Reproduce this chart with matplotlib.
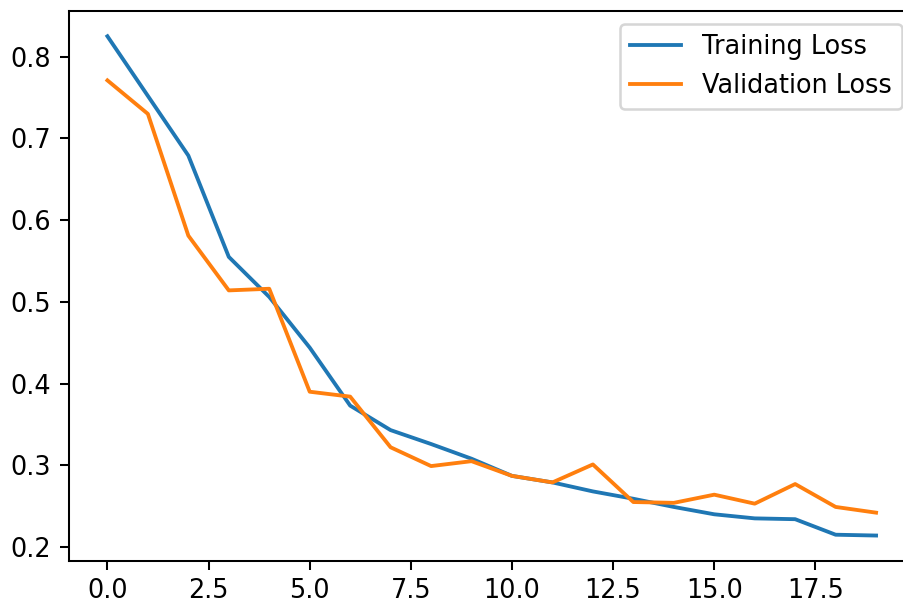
import numpy as np
import matplotlib
matplotlib.use('Agg')
import matplotlib.pyplot as plt

# loss per epoch
epochs = np.arange(20)
train_loss = [0.825, 0.752, 0.679, 0.555, 0.506, 0.444, 0.373, 0.343, 0.326, 0.308,
              0.287, 0.279, 0.268, 0.259, 0.249, 0.240, 0.235, 0.234, 0.215, 0.214]
val_loss = [0.771, 0.730, 0.581, 0.514, 0.516, 0.390, 0.384, 0.322, 0.299, 0.305,
            0.287, 0.279, 0.301, 0.255, 0.254, 0.264, 0.253, 0.277, 0.249, 0.242]

W, H, dpi = 903, 601, 184
fig = plt.figure(figsize=(W / dpi, H / dpi), dpi=dpi)
# axes run a bit past the right edge of the saved image
left, right, top, bottom = 69.0, 914.5, 11.3, 560.5
ax = fig.add_axes([left / W, (H - bottom) / H, (right - left) / W, (bottom - top) / H])

ax.plot(epochs, train_loss, label='Training Loss')
ax.plot(epochs, val_loss, label='Validation Loss')
ax.legend(loc='upper right')

fig.savefig('out.png', dpi=dpi)
